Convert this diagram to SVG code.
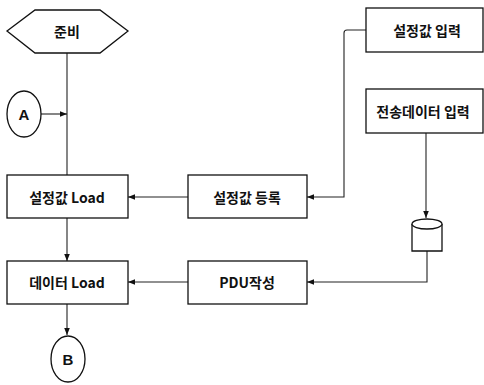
<svg xmlns="http://www.w3.org/2000/svg" width="484" height="385" viewBox="0 0 484 385">
<defs>
<marker id="ah" viewBox="0 0 10 10" refX="10" refY="5" markerWidth="7" markerHeight="7" orient="auto" markerUnits="userSpaceOnUse">
<path d="M0,1 L10,5 L0,9 Z" fill="#111"/>
</marker>
</defs>
<style>
.box{fill:#fff;stroke:#111;stroke-width:1.3}
.t{font-family:"Noto Sans CJK KR","Liberation Sans",sans-serif;font-weight:bold;font-size:14px;fill:#111;text-anchor:middle;dominant-baseline:central}
.c{fill:none;stroke:#222;stroke-width:1.1}
</style>
<rect width="484" height="385" fill="#fff"/>
<g id="connectors">
<line class="c" x1="67" y1="53" x2="67" y2="175"/>
<line class="c" x1="41" y1="114" x2="67" y2="114" marker-end="url(#ah)"/>
<line class="c" x1="67" y1="218" x2="67" y2="261" marker-end="url(#ah)"/>
<line class="c" x1="67" y1="304" x2="67" y2="335" marker-end="url(#ah)"/>
<line class="c" x1="188" y1="197" x2="128" y2="197" marker-end="url(#ah)"/>
<line class="c" x1="188" y1="282" x2="128" y2="282" marker-end="url(#ah)"/>
<path class="c" d="M366,30 L347,30 Q344,30 344,33 L344,197 L307,197" marker-end="url(#ah)"/>
<line class="c" x1="426" y1="133" x2="426" y2="218" marker-end="url(#ah)"/>
<path class="c" d="M427,251 L427,282 L307,282" marker-end="url(#ah)"/>
</g>
<g id="start">
<polygon class="box" points="7,31 35,10 100,10 128,31 100,53 35,53"/>
<text class="t" x="67" y="31">준비</text>
</g>
<g id="connectorA">
<ellipse class="box" cx="24" cy="114" rx="17" ry="23"/>
<text class="t" x="24" y="114" style="font-family:'Liberation Sans',sans-serif;font-size:15px">A</text>
</g>
<g id="settingLoad">
<rect class="box" x="7" y="175" width="121" height="43"/>
<text class="t" x="67" y="197">설정값 Load</text>
</g>
<g id="dataLoad">
<rect class="box" x="7" y="261" width="121" height="43"/>
<text class="t" x="67" y="282">데이터 Load</text>
</g>
<g id="connectorB">
<ellipse class="box" cx="68" cy="359" rx="17" ry="23"/>
<text class="t" x="68" y="359" style="font-family:'Liberation Sans',sans-serif;font-size:15px">B</text>
</g>
<g id="settingRegister">
<rect class="box" x="188" y="175" width="119" height="43"/>
<text class="t" x="247" y="197">설정값 등록</text>
</g>
<g id="pduCreate">
<rect class="box" x="188" y="261" width="119" height="43"/>
<text class="t" x="247" y="282">PDU작성</text>
</g>
<g id="settingInput">
<rect class="box" x="366" y="8" width="117" height="44"/>
<text class="t" x="427" y="30">설정값 입력</text>
</g>
<g id="dataInput">
<rect class="box" x="366" y="89" width="117" height="44"/>
<text class="t" x="423" y="111">전송데이터 입력</text>
</g>
<g id="storage">
<path class="box" d="M412,224 L412,251 L442,251 L442,224"/>
<ellipse class="box" cx="427" cy="224" rx="15" ry="5"/>
</g>
</svg>
